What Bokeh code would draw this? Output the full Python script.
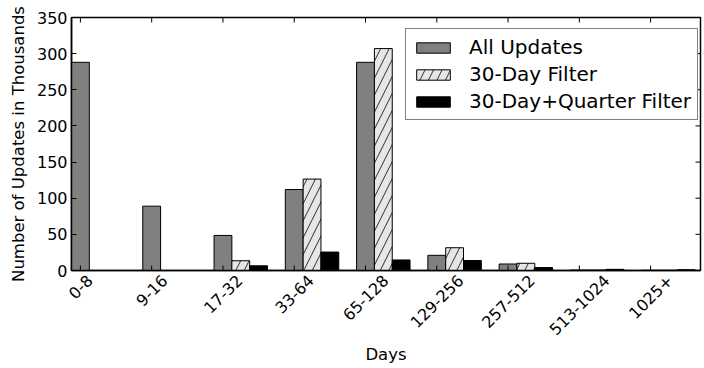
import math
from bokeh.plotting import figure
from bokeh.models import (ColumnDataSource, Range1d, FixedTicker, Legend,
                          LegendItem, CustomJSTickFormatter)
from bokeh.embed import file_html
from bokeh.resources import INLINE

categories = ["0-8", "9-16", "17-32", "33-64", "65-128", "129-256",
              "257-512", "513-1024", "1025+"]
all_updates = [288, 89, 48.5, 112, 288, 21, 9, 0.6, 0.3]
filter_30day = [0, 0, 13.5, 126.5, 307, 31.5, 10, 0.6, 0.3]
filter_30day_quarter = [0, 0, 6.5, 25.5, 14.6, 13.8, 4, 1.6, 1.1]
y_ticks = [0, 50, 100, 150, 200, 250, 300, 350]

FONT = "DejaVu Sans"
TICK_FS = 16
LABEL_FS = "16.5px"
LEGEND_FS = "20px"
bar_w = 0.25
idx = list(range(len(categories)))

W, H = 704, 368
B_LEFT, B_RIGHT, B_TOP, B_BOTTOM = 71, 4, 17, 98
x_start, x_end = -0.125, 8.7
px_per_unit = (W - B_LEFT - B_RIGHT) / (x_end - x_start)
LABEL_ANGLE = math.pi / 4

# approximate DejaVu Sans advance widths (em): rotated labels are centred
# under their tick (matplotlib style), Bokeh anchors them at the text end
CHAR_W = {"-": 0.361, "+": 0.838}
def text_width(s, fs):
    return sum(CHAR_W.get(c, 0.636) for c in s) * fs

c45 = math.cos(LABEL_ANGLE)
label_pos = [i + c45 * text_width(s, TICK_FS) / 2 / px_per_unit
             for i, s in zip(idx, categories)]

src = ColumnDataSource(dict(
    x0=[i for i in idx],
    x1=[i + bar_w for i in idx],
    x2=[i + 2 * bar_w for i in idx],
    a=all_updates, b=filter_30day, c=filter_30day_quarter,
))

p = figure(width=W, height=H, output_backend="svg", toolbar_location=None,
           x_range=Range1d(x_start, x_end), y_range=Range1d(0, 350),
           min_border_left=B_LEFT, min_border_right=B_RIGHT,
           min_border_top=B_TOP, min_border_bottom=B_BOTTOM)
p.background_fill_color = "white"
p.border_fill_color = "white"
p.grid.visible = False
p.outline_line_color = "black"
p.outline_line_width = 1.5

r1 = p.vbar(x="x0", top="a", width=bar_w, source=src, fill_color="#808080",
            line_color="black", line_width=1)
r2 = p.vbar(x="x1", top="b", width=bar_w, source=src, fill_color="#e6e6e6",
            line_color="black", line_width=1, hatch_pattern="/",
            hatch_color="black", hatch_scale=17, hatch_weight=0.8)
r3 = p.vbar(x="x2", top="c", width=bar_w, source=src, fill_color="black",
            line_color="black", line_width=1)

# inward tick marks on bottom, top and right edges
tick_kw = dict(length=5, length_units="screen", line_color="black", line_width=1)
p.ray(x=idx, y=[p.y_range.start] * len(idx), angle=math.pi / 2, **tick_kw)
p.ray(x=idx, y=[p.y_range.end] * len(idx), angle=-math.pi / 2, **tick_kw)
p.ray(x=[p.x_range.end] * len(y_ticks), y=y_ticks, angle=math.pi, **tick_kw)

xax = p.xaxis[0]
xax.ticker = FixedTicker(ticks=label_pos)
xax.formatter = CustomJSTickFormatter(args=dict(labels=categories),
                                      code="return labels[index];")
xax.major_label_orientation = LABEL_ANGLE
xax.major_tick_line_color = None
xax.major_label_standoff = 7
xax.major_label_text_font_size = f"{TICK_FS}px"
xax.axis_label = "Days"
xax.axis_label_standoff = 2

yax = p.yaxis[0]
yax.ticker = FixedTicker(ticks=y_ticks)
yax.axis_label = "Number of Updates in Thousands"
yax.axis_label_standoff = 6
yax.major_label_standoff = 4
yax.major_label_text_font_size = f"{TICK_FS}px"
yax.major_tick_line_color = "black"

for ax in [xax, yax]:
    ax.major_tick_in = 5
    ax.major_tick_out = 0
    ax.minor_tick_line_color = None
    ax.major_tick_line_width = 1
    ax.axis_line_color = "black"
    ax.axis_line_width = 1.5
    ax.major_label_text_font = FONT
    ax.major_label_text_color = "black"
    ax.axis_label_text_font = FONT
    ax.axis_label_text_color = "black"
    ax.axis_label_text_font_style = "normal"
    ax.axis_label_text_font_size = LABEL_FS

legend = Legend(items=[
    LegendItem(label="All Updates", renderers=[r1]),
    LegendItem(label="30-Day Filter", renderers=[r2]),
    LegendItem(label="30-Day+Quarter Filter", renderers=[r3]),
], location=(334, 150))
legend.border_line_color = "black"
legend.border_line_width = 1
legend.label_text_font = FONT
legend.label_text_font_size = LEGEND_FS
legend.label_text_color = "black"
legend.glyph_width = 42
legend.glyph_height = 13
legend.label_standoff = 15
legend.spacing = 3
legend.padding = 6
legend.margin = 0
legend.background_fill_alpha = 1
p.add_layout(legend, "center")

open("out.html", "w").write(file_html(p, INLINE))
